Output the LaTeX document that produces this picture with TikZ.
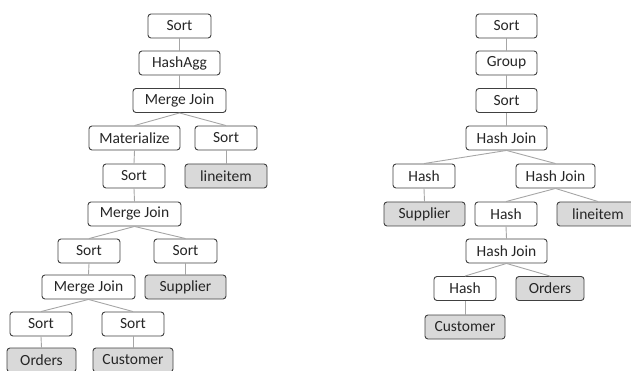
\documentclass[tikz,border=0pt]{standalone}
\usepackage{fontspec}
\setmainfont{Carlito}
\tikzset{
  plan/.style={draw=black!75, line width=0.9pt, rounded corners=3pt, fill=white,
    minimum height=24pt, inner sep=0pt, text=black!85,
    font=\fontsize{15.5}{18}\selectfont},
  rel/.style={plan, fill=black!15},
  edge/.style={draw=black!35, line width=0.9pt},
}
\begin{document}
\begin{tikzpicture}[x=1pt,y=-1pt]
\useasboundingbox (0,0) rectangle (631,371);
\clip (0,0) rectangle (631,371);

% Left plan: merge joins
\node[plan, minimum width=63pt] (s1)  at (179.5,26)  {Sort};
\node[plan, minimum width=81pt] (ha)  at (179.5,63)  {HashAgg};
\node[plan, minimum width=93pt] (mj1) at (179.5,100.5) {Merge Join};
\node[plan, minimum width=91pt] (mat) at (134.5,138) {Materialize};
\node[plan, minimum width=62pt] (s2)  at (226,138)   {Sort};
\node[plan, minimum width=62pt] (s3)  at (134,176)   {Sort};
\node[rel,  minimum width=82pt] (li)  at (226,176)   {lineitem};
\node[plan, minimum width=93pt] (mj2) at (134.5,214) {Merge Join};
\node[plan, minimum width=62pt] (s4)  at (89,251)    {Sort};
\node[plan, minimum width=63pt] (s5)  at (185.5,251) {Sort};
\node[plan, minimum width=93pt] (mj3) at (88.5,287)  {Merge Join};
\node[rel,  minimum width=81pt] (sup) at (185.5,287) {Supplier};
\node[plan, minimum width=62pt] (s6)  at (41,324)    {Sort};
\node[plan, minimum width=62pt] (s7)  at (133,324)   {Sort};
\node[rel,  minimum width=69pt] (ord) at (41.5,360)  {Orders};
\node[rel,  minimum width=80pt] (cus) at (133,360)   {Customer};

\foreach \p/\c in {s1/ha, ha/mj1, mj1/mat, mj1/s2, mat/s3, s2/li, s3/mj2,
                   mj2/s4, mj2/s5, s4/mj3, s5/sup, mj3/s6, mj3/s7, s6/ord, s7/cus}
  \draw[edge] (\p.south) -- (\c.north);

% Right plan: hash joins
\node[plan, minimum width=61pt] (r1)   at (506.5,26)  {Sort};
\node[plan, minimum width=61pt] (grp)  at (506.5,63)  {Group};
\node[plan, minimum width=61pt] (r2)   at (506.5,100.5) {Sort};
\node[plan, minimum width=81pt] (hj1)  at (506.5,138) {Hash Join};
\node[plan, minimum width=62pt] (h1)   at (424,176)   {Hash};
\node[plan, minimum width=79pt] (hj2)  at (555.5,176) {Hash Join};
\node[rel,  minimum width=81pt] (sup2) at (424.5,214) {Supplier};
\node[plan, minimum width=62pt] (h2)   at (506,214)   {Hash};
\node[rel,  minimum width=82pt] (li2)  at (598,214)   {lineitem};
\node[plan, minimum width=81pt] (hj3)  at (506.5,251) {Hash Join};
\node[plan, minimum width=62pt] (h3)   at (465,288.5) {Hash};
\node[rel,  minimum width=68pt] (ord2) at (550,288.5) {Orders};
\node[rel,  minimum width=80pt] (cus2) at (465,327)   {Customer};

\foreach \p/\c in {r1/grp, grp/r2, r2/hj1, hj1/h1, hj1/hj2, h1/sup2, hj2/h2,
                   hj2/li2, h2/hj3, hj3/h3, hj3/ord2, h3/cus2}
  \draw[edge] (\p.south) -- (\c.north);
\end{tikzpicture}
\end{document}
